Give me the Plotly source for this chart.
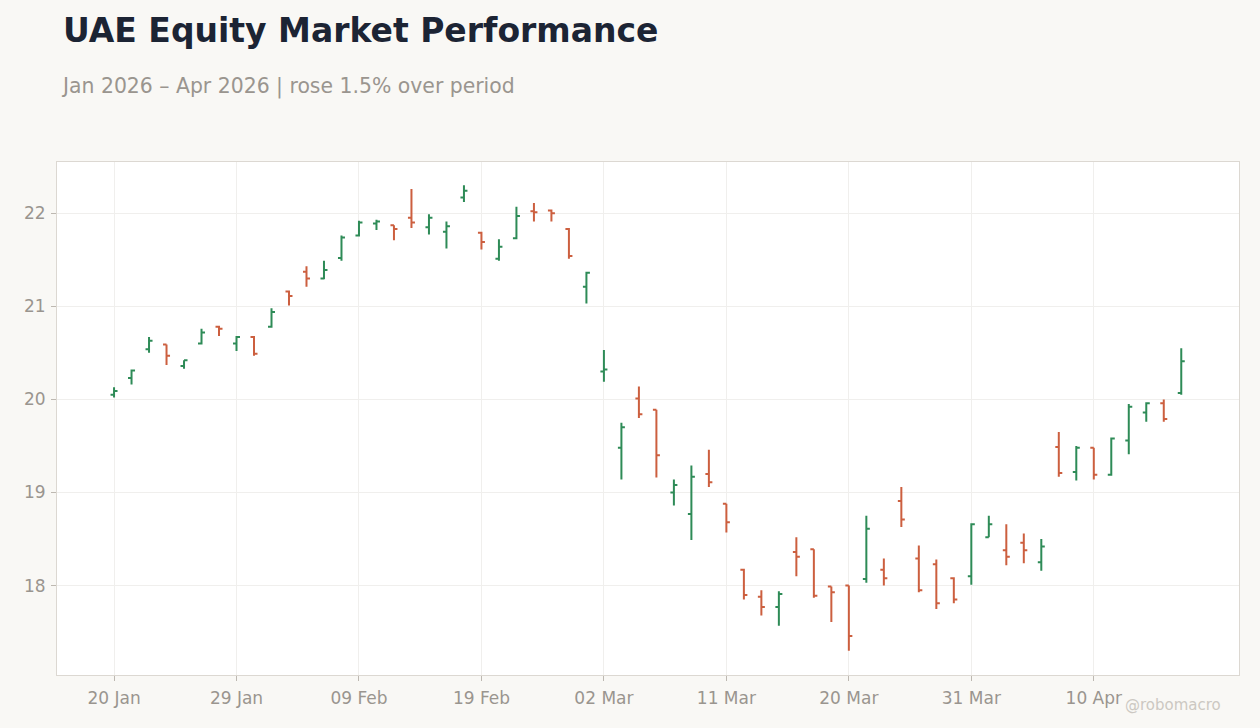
import plotly.graph_objects as go

dates = [
    "20 Jan", "21 Jan", "22 Jan", "23 Jan", "26 Jan", "27 Jan", "28 Jan", "29 Jan", "30 Jan",
    "02 Feb", "03 Feb", "04 Feb", "05 Feb", "06 Feb", "09 Feb", "10 Feb", "11 Feb", "12 Feb",
    "13 Feb", "17 Feb", "18 Feb", "19 Feb", "20 Feb", "23 Feb", "24 Feb", "25 Feb", "26 Feb",
    "27 Feb", "02 Mar", "03 Mar", "04 Mar", "05 Mar", "06 Mar", "09 Mar", "10 Mar", "11 Mar",
    "12 Mar", "13 Mar", "16 Mar", "17 Mar", "18 Mar", "19 Mar", "20 Mar", "23 Mar", "24 Mar",
    "25 Mar", "26 Mar", "27 Mar", "30 Mar", "31 Mar", "01 Apr", "02 Apr", "06 Apr", "07 Apr",
    "08 Apr", "09 Apr", "10 Apr", "13 Apr", "14 Apr", "15 Apr", "16 Apr", "17 Apr",
]

open_ = [
    20.05, 20.23, 20.54, 20.59, 20.36, 20.60, 20.78, 20.60, 20.67, 20.78,
    21.16, 21.37, 21.30, 21.52, 21.76, 21.89, 21.87, 21.95, 21.85, 21.80,
    22.17, 21.79, 21.51, 21.73, 22.02, 22.03, 21.83, 21.21, 20.30, 19.48,
    20.01, 19.89, 19.00, 18.77, 19.20, 18.88, 18.17, 17.88, 17.77, 18.36,
    18.39, 17.99, 18.00, 18.07, 18.17, 18.91, 18.29, 18.23, 18.08, 18.10,
    18.52, 18.38, 18.46, 18.25, 19.49, 19.22, 19.48, 19.19, 19.56, 19.86,
    19.96, 20.07,
]
high = [
    20.13, 20.32, 20.67, 20.59, 20.42, 20.76, 20.79, 20.68, 20.68, 20.98,
    21.17, 21.43, 21.49, 21.76, 21.92, 21.93, 21.87, 22.26, 21.99, 21.91,
    22.30, 21.80, 21.72, 22.07, 22.11, 22.04, 21.84, 21.37, 20.53, 19.75,
    20.14, 19.89, 19.14, 19.29, 19.46, 18.88, 18.18, 17.95, 17.94, 18.52,
    18.39, 17.99, 18.00, 18.75, 18.29, 19.06, 18.43, 18.28, 18.09, 18.67,
    18.75, 18.66, 18.56, 18.50, 19.65, 19.50, 19.48, 19.59, 19.95, 19.97,
    20.00, 20.55,
]
low = [
    20.02, 20.16, 20.50, 20.37, 20.33, 20.59, 20.68, 20.52, 20.47, 20.77,
    21.01, 21.21, 21.29, 21.49, 21.75, 21.82, 21.71, 21.84, 21.77, 21.62,
    22.12, 21.61, 21.49, 21.72, 21.91, 21.91, 21.51, 21.03, 20.19, 19.14,
    19.80, 19.16, 18.86, 18.49, 19.06, 18.57, 17.85, 17.68, 17.57, 18.10,
    17.87, 17.61, 17.30, 18.03, 18.00, 18.63, 17.93, 17.75, 17.81, 18.01,
    18.52, 18.22, 18.24, 18.16, 19.17, 19.13, 19.14, 19.18, 19.41, 19.76,
    19.76, 20.05,
]
close = [
    20.09, 20.31, 20.63, 20.47, 20.42, 20.72, 20.76, 20.67, 20.49, 20.94,
    21.11, 21.30, 21.39, 21.74, 21.90, 21.91, 21.83, 21.90, 21.95, 21.86,
    22.24, 21.69, 21.64, 21.97, 22.01, 22.00, 21.54, 21.36, 20.32, 19.70,
    19.84, 19.40, 19.08, 19.17, 19.11, 18.68, 17.90, 17.77, 17.91, 18.31,
    17.89, 17.93, 17.46, 18.61, 18.08, 18.71, 17.95, 17.81, 17.85, 18.66,
    18.66, 18.31, 18.38, 18.42, 19.21, 19.48, 19.19, 19.58, 19.92, 19.96,
    19.79, 20.41,
]

tick_labels = dates[::7]

UP = "#2e8b57"
DOWN = "#cc5f3f"
MUTED = "#9a958f"
FONT = "DejaVu Sans"

fig = go.Figure(
    go.Ohlc(
        x=dates,
        open=open_,
        high=high,
        low=low,
        close=close,
        increasing=dict(line=dict(color=UP, width=2)),
        decreasing=dict(line=dict(color=DOWN, width=2)),
        tickwidth=0.2,
        showlegend=False,
    )
)

fig.update_layout(
    width=1260,
    height=728,
    paper_bgcolor="#f9f8f5",
    plot_bgcolor="#ffffff",
    margin=dict(l=57, r=21, t=162, b=53),
    font=dict(family=FONT, color=MUTED, size=17),
    title=dict(
        text="<b>UAE Equity Market Performance</b>",
        font=dict(family=FONT, size=33, color="#1c2434"),
        xref="container", yref="container",
        x=0.05, xanchor="left",
        y=1 - 30 / 728, yanchor="middle",
    ),
    annotations=[
        dict(
            text="Jan 2026 – Apr 2026 | rose 1.5% over period",
            xref="paper", yref="paper",
            x=(63 - 57) / 1182, y=(675 - 86) / 513,
            xanchor="left", yanchor="middle",
            xshift=-4,
            showarrow=False,
            font=dict(family=FONT, size=20.4, color=MUTED),
        ),
        dict(
            text="@robomacro",
            xref="paper", yref="paper",
            x=(1223 - 57) / 1182, y=-(705 - 675) / 513,
            xanchor="right", yanchor="middle",
            showarrow=False,
            font=dict(family=FONT, size=15, color="#ccc8c2"),
        ),
    ],
    xaxis=dict(
        type="category",
        range=[-3.26, 64.3],
        rangeslider=dict(visible=False),
        tickmode="array",
        tickvals=tick_labels,
        ticktext=tick_labels,
        showgrid=True,
        gridcolor="#f0efed",
        ticks="outside",
        ticklen=5,
        tickcolor="#bdb8b1",
        showline=True,
        linecolor="#dcd8d2",
        mirror=True,
        ticklabelstandoff=3,
        tickfont=dict(size=17, color=MUTED),
    ),
    yaxis=dict(
        range=[17.04, 22.55],
        dtick=1,
        showgrid=True,
        gridcolor="#f0efed",
        zeroline=False,
        ticks="outside",
        ticklen=5,
        tickcolor="#bdb8b1",
        showline=True,
        linecolor="#dcd8d2",
        mirror=True,
        ticklabelstandoff=2,
        tickfont=dict(size=17, color=MUTED),
    ),
)

fig.write_html("out.html")
